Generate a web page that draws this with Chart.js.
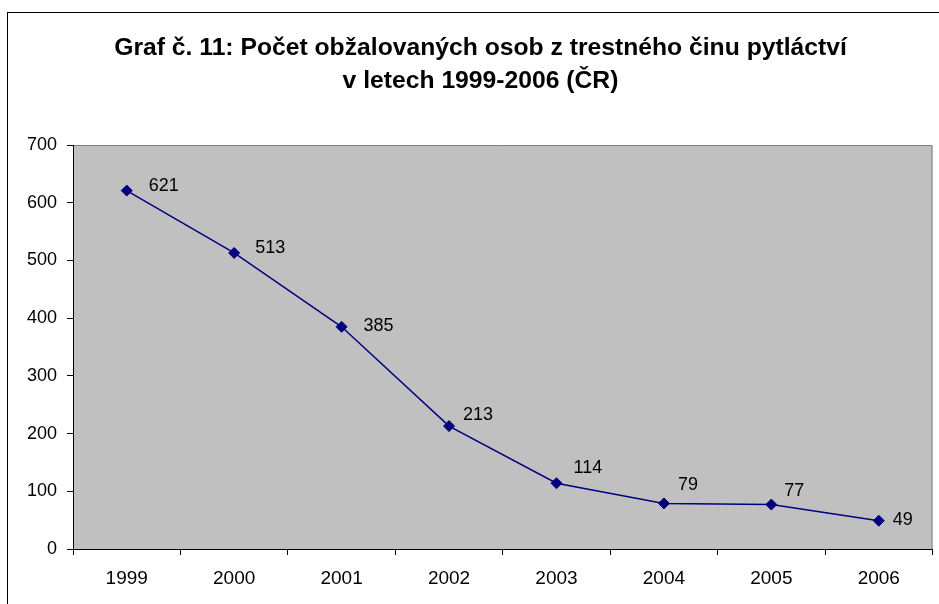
<!DOCTYPE html>
<html>
<head>
<meta charset="utf-8">
<script src="https://cdn.jsdelivr.net/npm/chart.js@4/dist/chart.umd.min.js"></script>
<style>
  html, body { margin: 0; padding: 0; background: #fff; overflow: hidden; }
  #frame { position: absolute; left: 7px; top: 12px; width: 1000px; height: 1000px; border: 1px solid #000; }
  #chart { position: absolute; left: 0; top: 0; }
</style>
</head>
<body>
<div id="frame"></div>
<canvas id="chart" width="939" height="604"></canvas>
<script>
// --- data ---
const years = ['1999', '2000', '2001', '2002', '2003', '2004', '2005', '2006']
const accused = [621, 513, 385, 213, 114, 79, 77, 49]
const yTicks = [0, 100, 200, 300, 400, 500, 600, 700]

// hand-placed label nudges, as in the original (dx to left edge, dy to text middle)
const labelNudge = [[22, -5], [21, -5], [22, -1], [14, -11], [17, -15], [14, -18], [13, -14], [14, -1]]

const FONT = "'Liberation Sans', Arial, sans-serif"

// grey plot area with a darker rim (top + right; axes cover the rest)
const plotBg = {
  id: 'plotBg',
  beforeDraw(chart) {
    const { ctx, chartArea: a } = chart
    ctx.save()
    ctx.fillStyle = '#c0c0c0'
    ctx.fillRect(a.left, a.top, a.right - a.left, a.bottom - a.top)
    ctx.strokeStyle = '#808080'
    ctx.lineWidth = 1
    ctx.beginPath()
    ctx.moveTo(a.left, a.top + 0.5)
    ctx.lineTo(a.right - 0.5, a.top + 0.5)
    ctx.lineTo(a.right - 0.5, a.bottom)
    ctx.stroke()
    ctx.restore()
  },
}

// value labels next to each point
const valueLabels = {
  id: 'valueLabels',
  afterDatasetsDraw(chart) {
    const { ctx } = chart
    const meta = chart.getDatasetMeta(0)
    const data = chart.data.datasets[0].data
    ctx.save()
    ctx.font = '18px ' + FONT
    ctx.fillStyle = '#000'
    ctx.textAlign = 'left'
    ctx.textBaseline = 'middle'
    meta.data.forEach((pt, i) => {
      const [dx, dy] = labelNudge[i] || [16, -8]
      ctx.fillText(String(data[i]), pt.x + dx, pt.y + dy)
    })
    ctx.restore()
  },
}

new Chart(document.getElementById('chart'), {
  type: 'line',
  data: {
    labels: years,
    datasets: [{
      data: accused,
      borderColor: '#000080',
      backgroundColor: '#000080',
      borderWidth: 1.5,
      pointStyle: 'rectRot',
      pointRadius: 5.5,
      pointBorderWidth: 1,
      tension: 0,
    }],
  },
  options: {
    responsive: false,
    animation: false,
    devicePixelRatio: 1,
    layout: { padding: { left: 24, right: 2, top: 0, bottom: 0 } },
    plugins: {
      legend: { display: false },
      tooltip: { enabled: false },
      title: {
        display: true,
        text: ['Graf č. 11: Počet obžalovaných osob z trestného činu pytláctví', 'v letech 1999-2006 (ČR)'],
        color: '#000',
        font: { family: FONT, size: 24.7, weight: 'bold', lineHeight: 33 / 24.7 },
        padding: { top: 32, bottom: 47 },
      },
    },
    scales: {
      x: {
        offset: true,
        grid: { offset: true, drawOnChartArea: false, tickLength: 6, color: '#000' },
        border: { color: '#000' },
        ticks: { color: '#000', font: { family: FONT, size: 19 }, padding: 12, maxRotation: 0 },
        afterFit(s) { s.height = 55 },
      },
      y: {
        min: 0,
        max: 700,
        afterBuildTicks(s) { s.ticks = yTicks.map(v => ({ value: v })) },
        grid: { drawOnChartArea: false, tickLength: 6, color: '#000' },
        border: { color: '#000' },
        ticks: { color: '#000', font: { family: FONT, size: 18 }, padding: 10 },
        afterFit(s) { s.width = 49 },
      },
    },
  },
  plugins: [plotBg, valueLabels],
})
</script>
</body>
</html>
